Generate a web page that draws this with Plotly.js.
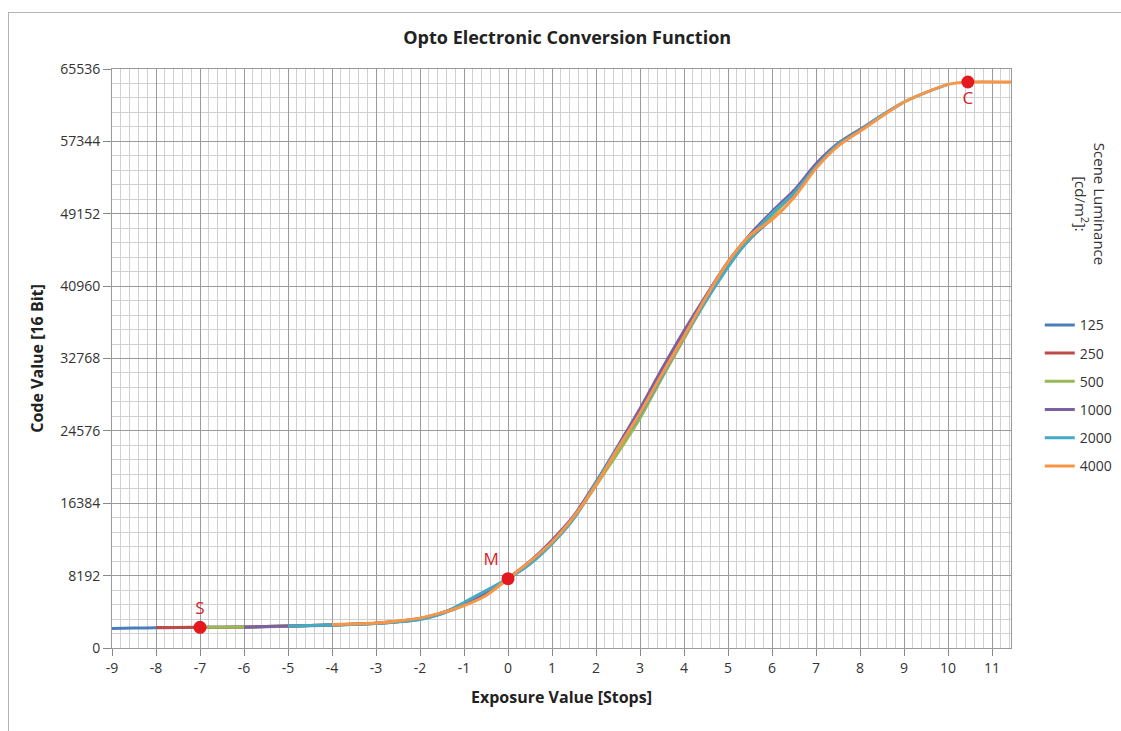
<!DOCTYPE html>
<html>
<head>
<meta charset="utf-8">
<script src="https://cdn.plot.ly/plotly-3.0.1.min.js"></script>
<style>
  html, body { margin: 0; padding: 0; background: #fff; }
  #chart { width: 1121px; height: 731px; position: absolute; left: 0; top: 0; }
  #frame { position: absolute; left: 8px; top: 12px; width: 1121px; height: 731px;
           border-left: 1.5px solid #b4b4b4; border-top: 1.5px solid #b4b4b4; pointer-events: none; }
</style>
</head>
<body>
<div id="chart"></div>
<div id="frame"></div>
<script>
// ---- Data ----
const seriesNames = ["125", "250", "500", "1000", "2000", "4000"];
const seriesColors = ["#4a7ebb", "#be4b48", "#98b954", "#7d60a0", "#46aac5", "#f79646"];

const x125 = [-9,-8.5,-8,-7.5,-7,-6.5,-6,-5.5,-5,-4.5,-4,-3.5,-3,-2.5,-2,-1.5,-1,-0.5,0,0.5,1,1.5,2,2.5,3,3.5,4,4.5,5,5.5,6];
const y125 = [2200,2260,2290,2310,2330,2345,2365,2415,2470,2530,2590,2680,2790,2980,3260,3900,4850,6150,7800,9650,11900,14800,18500,22400,26300,30700,35200,39400,43300,46300,48600];

const x250 = [-8,-7.5,-7,-6.5,-6,-5.5,-5,-4.5,-4,-3.5,-3,-2.5,-2,-1.5,-1,-0.5,0,0.5,1,1.5,2,2.5,3,3.5,4,4.5,5,5.5,6,6.5,7];
const y250 = [2320,2330,2340,2355,2375,2425,2485,2545,2610,2700,2810,3010,3320,3980,4950,6250,7900,9800,12100,14900,18700,22700,26900,31300,35600,39800,43700,46700,49000,51500,54600];

const x500 = [-7,-6.5,-6,-5.5,-5,-4.5,-4,-3.5,-3,-2.5,-2,-1.5,-1,-0.5,0,0.5,1,1.5,2,2.5,3,3.5,4,4.5,5,5.5,6,6.5,7,7.5,8];
const y500 = [2340,2350,2370,2420,2480,2540,2600,2690,2800,2990,3290,3930,4880,6180,7820,9600,11800,14700,18400,22100,26000,30600,35000,39300,43300,46400,48900,51600,54700,57100,58700];

const x1000 = [-6,-5.5,-5,-4.5,-4,-3.5,-3,-2.5,-2,-1.5,-1,-0.5,0,0.5,1,1.5,2,2.5,3,3.5,4,4.5,5,5.5,6,6.5,7,7.5,8,8.5,9];
const y1000 = [2360,2430,2490,2550,2610,2700,2810,3020,3330,4000,4950,6250,7880,9800,12200,15000,18800,22900,27100,31600,35900,39900,43700,46800,49400,51800,54800,57100,58700,60300,61800];

const x2000 = [-5,-4.5,-4,-3.5,-3,-2.5,-2,-1.5,-1,-0.5,0,0.5,1,1.5,2,2.5,3,3.5,4,4.5,5,5.5,6,6.5,7,7.5,8,8.5,9,9.5,10];
const y2000 = [2500,2550,2600,2660,2760,2940,3220,3900,5150,6500,7850,9500,11800,14700,18700,22700,26400,30800,35200,39300,43100,46500,49200,51500,54500,57000,58600,60300,61800,62900,63800];

const x4000 = [-4,-3.5,-3,-2.5,-2,-1.5,-1,-0.5,0,0.5,1,1.5,2,2.5,3,3.5,4,4.5,5,5.5,6,6.5,7,7.5,8,8.5,9,9.5,10,10.45,11.43];
const y4000 = [2650,2730,2830,3050,3380,4000,4800,5950,7850,9800,12000,14900,18500,22600,26600,31000,35300,39700,43700,46700,48500,51000,54300,56800,58500,60200,61800,62900,63800,64064,64064];

const pointLabels = ["S", "M", "C"];
const pointX = [-7, 0, 10.45];
const pointY = [2340, 7850, 64064];
const pointTextPos = ["top center", "top left", "bottom center"];

const yTickVals = [0, 8192, 16384, 24576, 32768, 40960, 49152, 57344, 65536];
const yTickText = ["0", "8192", "16384", "24576", "32768", "40960", "49152", "57344", "65536"];
const xTickVals = [-9,-8,-7,-6,-5,-4,-3,-2,-1,0,1,2,3,4,5,6,7,8,9,10,11];
const xTickText = ["-9","-8","-7","-6","-5","-4","-3","-2","-1","0","1","2","3","4","5","6","7","8","9","10","11"];

// ---- Traces ----
const xs = [x125, x250, x500, x1000, x2000, x4000];
const ys = [y125, y250, y500, y1000, y2000, y4000];
const traces = seriesNames.map((n, i) => ({
  type: "scatter", mode: "lines", name: n,
  x: xs[i], y: ys[i],
  legendgroup: "g" + i,
  line: { color: seriesColors[i], width: 3, shape: "spline", smoothing: 0.7 }
}));
traces.push({
  type: "scatter", mode: "markers+text", showlegend: false,
  x: pointX, y: pointY, text: pointLabels, textposition: pointTextPos,
  marker: { color: "#e3191f", size: 13 },
  textfont: { family: "Open Sans, sans-serif", size: 17, color: "#d4252b" },
  hoverinfo: "skip"
});

const font = "Open Sans, Liberation Sans, sans-serif";
const layout = {
  width: 1121, height: 731,
  margin: { l: 112, r: 110, t: 69, b: 83, autoexpand: false },
  paper_bgcolor: "#ffffff", plot_bgcolor: "#ffffff",
  font: { family: font, color: "#333333", size: 13 },
  title: {
    text: "<b>Opto Electronic Conversion Function</b>",
    font: { family: font, size: 18, color: "#222222" },
    x: 0.506, xref: "container", y: 0.948, yref: "container", yanchor: "middle"
  },
  xaxis: {
    range: [-9, 11.43], tickmode: "array", tickvals: xTickVals, ticktext: xTickText,
    ticks: "outside", ticklen: 7, tickcolor: "#888888", tickwidth: 1,
    showgrid: true, gridcolor: "#9a9a9a", gridwidth: 1,
    minor: { dtick: 0.2, tick0: 0, showgrid: true, gridcolor: "#d0d0d0", gridwidth: 1, ticks: "" },
    showline: true, mirror: true, linecolor: "#9a9a9a", linewidth: 1,
    zeroline: false,
    tickfont: { family: font, size: 14, color: "#333333" },
    title: { text: "<b>Exposure Value [Stops]</b>", font: { family: font, size: 16, color: "#222222" }, standoff: 16 }
  },
  yaxis: {
    range: [0, 65536], tickmode: "array", tickvals: yTickVals, ticktext: yTickText,
    ticks: "outside", ticklen: 8, tickcolor: "#888888", tickwidth: 1,
    showgrid: true, gridcolor: "#9a9a9a", gridwidth: 1,
    minor: { dtick: 1638.4, tick0: 0, showgrid: true, gridcolor: "#d0d0d0", gridwidth: 1, ticks: "" },
    showline: true, mirror: true, linecolor: "#9a9a9a", linewidth: 1,
    zeroline: false,
    tickfont: { family: font, size: 14, color: "#333333" },
    title: { text: "<b>Code Value [16 Bit]</b>", font: { family: font, size: 16, color: "#222222" }, standoff: 12 }
  },
  showlegend: true,
  legend: {
    x: 1.032, xanchor: "left", y: 0.585, yanchor: "top",
    font: { family: font, size: 14, color: "#333333" },
    tracegroupgap: 7, itemwidth: 30, bgcolor: "rgba(0,0,0,0)"
  },
  annotations: [{
    text: "Scene Luminance<br>[cd/m<sup>2</sup>]:",
    xref: "paper", yref: "paper", x: 1.088, y: 0.767,
    xanchor: "center", yanchor: "middle",
    showarrow: false, textangle: 90,
    font: { family: font, size: 15, color: "#333333" }
  }]
};

Plotly.newPlot("chart", traces, layout, { displayModeBar: false, staticPlot: true });
</script>
</body>
</html>
